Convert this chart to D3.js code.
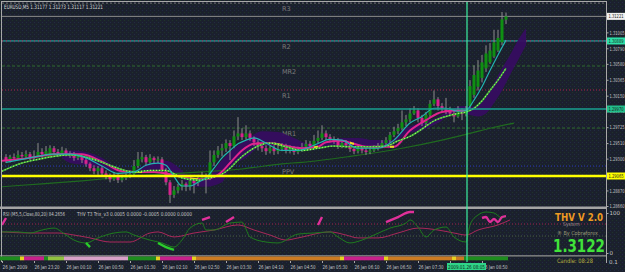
<!DOCTYPE html>
<html><head><meta charset="utf-8">
<script src="https://cdn.jsdelivr.net/npm/d3@7"></script>
<style>
html,body{margin:0;padding:0;background:#1b202d;overflow:hidden}
svg{display:block}
text{font-family:"DejaVu Sans",sans-serif}
</style></head><body>
<script>
// ---------- DATA ----------
const symbolTitle = "EURUSD,M5  1.31177 1.31273 1.31117 1.31221";
const barOpen = [1.2932,1.2928,1.2932,1.2931,1.2935,1.2933,1.2936,1.2932,1.2933,1.2939,
1.2936,1.2933,1.2944,1.2939,1.2937,1.2941,1.2937,1.2935,1.2931,1.2933,
1.2928,1.2923,1.2917,1.2913,1.2917,1.2910,1.2906,1.2902,1.2906,1.2901,
1.2904,1.2906,1.2909,1.2920,1.2929,1.2932,1.2925,1.2931,1.2928,1.2929,
1.2914,1.2898,1.2881,1.2887,1.2892,1.2896,1.2892,1.2900,1.2897,1.2904,
1.2906,1.2904,1.2925,1.2935,1.2941,1.2944,1.2951,1.2947,1.2960,1.2964,
1.2959,1.2964,1.2958,1.2952,1.2947,1.2944,1.2940,1.2944,1.2940,1.2943,
1.2947,1.2941,1.2944,1.2939,1.2941,1.2946,1.2950,1.2947,1.2954,1.2958,
1.2964,1.2959,1.2956,1.2954,1.2947,1.2951,1.2948,1.2943,1.2940,1.2944,
1.2941,1.2939,1.2941,1.2944,1.2947,1.2951,1.2955,1.2962,1.2967,1.2971,
1.2979,1.2983,1.2991,1.2995,1.2985,1.2978,1.2989,1.3004,1.3010,1.3001,
1.2998,1.2994,1.2991,1.2987,1.2994,1.2990,1.3001,1.3016,1.3027,1.3039,
1.3052,1.3060,1.3068,1.3076,1.3087,1.31177];
const barHigh = [1.2936,1.2935,1.2937,1.2941,1.2939,1.2941,1.2939,1.2941,1.2951,1.2944,
1.2947,1.2948,1.2947,1.2943,1.2946,1.2944,1.2940,1.2939,1.2936,1.2935,
1.2931,1.2925,1.2921,1.2920,1.2920,1.2914,1.2910,1.2912,1.2909,1.2908,
1.2910,1.2914,1.2928,1.2939,1.2939,1.2935,1.2936,1.2933,1.2933,1.2932,
1.2917,1.2901,1.2893,1.2896,1.2901,1.2898,1.2904,1.2904,1.2908,1.2912,
1.2910,1.2941,1.2941,1.2947,1.2950,1.2956,1.2955,1.2968,1.2986,1.2971,
1.2975,1.2968,1.2960,1.2955,1.2951,1.2948,1.2947,1.2948,1.2948,1.2951,
1.2950,1.2948,1.2947,1.2946,1.2951,1.2955,1.2954,1.2962,1.2968,1.2975,
1.2968,1.2963,1.2960,1.2958,1.2955,1.2955,1.2952,1.2947,1.2948,1.2947,
1.2946,1.2946,1.2948,1.2951,1.2955,1.2959,1.2966,1.2973,1.2977,1.2995,
1.2989,1.2998,1.3001,1.2998,1.2989,1.2993,1.3009,1.3022,1.3013,1.3005,
1.3012,1.3000,1.2995,1.3001,1.2998,1.3001,1.3036,1.3056,1.3063,1.3070,
1.3083,1.3086,1.3104,1.3104,1.3128,1.31273];
const barLow = [1.2924,1.2925,1.2928,1.2928,1.2931,1.2931,1.2928,1.2928,1.2932,1.2931,
1.2933,1.2931,1.2935,1.2932,1.2935,1.2933,1.2931,1.2927,1.2928,1.2924,
1.2919,1.2913,1.2909,1.2908,1.2906,1.2902,1.2898,1.2900,1.2897,1.2898,
1.2901,1.2904,1.2906,1.2917,1.2925,1.2921,1.2923,1.2924,1.2924,1.2910,
1.2894,1.2870,1.2877,1.2883,1.2887,1.2886,1.2887,1.2883,1.2893,1.2901,
1.2883,1.2901,1.2920,1.2931,1.2933,1.2939,1.2928,1.2944,1.2955,1.2955,
1.2956,1.2954,1.2947,1.2941,1.2939,1.2935,1.2937,1.2935,1.2936,1.2940,
1.2937,1.2937,1.2935,1.2936,1.2939,1.2941,1.2943,1.2944,1.2951,1.2955,
1.2955,1.2952,1.2950,1.2943,1.2944,1.2944,1.2939,1.2936,1.2937,1.2937,
1.2935,1.2936,1.2939,1.2941,1.2944,1.2947,1.2951,1.2959,1.2963,1.2968,
1.2974,1.2979,1.2989,1.2979,1.2974,1.2974,1.2986,1.3001,1.2995,1.2993,
1.2990,1.2987,1.2979,1.2985,1.2982,1.2987,1.2998,1.3012,1.3022,1.3033,
1.3047,1.3058,1.3066,1.3074,1.3083,1.31117];
const barClose = [1.2928,1.2932,1.2931,1.2935,1.2933,1.2936,1.2932,1.2933,1.2939,1.2936,
1.2940,1.2944,1.2939,1.2937,1.2941,1.2937,1.2935,1.2931,1.2933,1.2928,
1.2923,1.2917,1.2913,1.2917,1.2910,1.2906,1.2902,1.2906,1.2901,1.2904,
1.2906,1.2909,1.2920,1.2929,1.2932,1.2925,1.2931,1.2928,1.2929,1.2914,
1.2898,1.2881,1.2887,1.2892,1.2896,1.2892,1.2900,1.2897,1.2904,1.2906,
1.2904,1.2925,1.2935,1.2941,1.2944,1.2951,1.2947,1.2960,1.2964,1.2959,
1.2964,1.2958,1.2952,1.2947,1.2944,1.2940,1.2944,1.2940,1.2943,1.2947,
1.2941,1.2944,1.2939,1.2941,1.2946,1.2950,1.2947,1.2954,1.2958,1.2964,
1.2959,1.2956,1.2954,1.2947,1.2951,1.2948,1.2943,1.2940,1.2944,1.2941,
1.2939,1.2941,1.2944,1.2947,1.2951,1.2955,1.2962,1.2967,1.2971,1.2979,
1.2983,1.2991,1.2995,1.2985,1.2978,1.2989,1.3004,1.3010,1.3001,1.2998,
1.2994,1.2991,1.2987,1.2994,1.2990,1.2995,1.3028,1.3043,1.3049,1.3060,
1.3072,1.3076,1.3087,1.3093,1.3118,1.31221];

// moving averages (bar index, price)
const fastIdx = [0,4,8,12,16,20,24,28,32,35,38,40,42,44,46,48,50,52,54,56,58,60,62,65,69,73,77,81,84,88,93,97,101,104,107,110,113,115,117,119,121,123,125];
const fastVal = [1.2925,1.2929,1.2933,1.2936,1.2936,1.2931,1.2920,1.2910,1.2912,1.2921,1.2924,1.2921,1.2906,1.2893,1.2893,1.2898,1.2904,1.2917,1.2931,1.2941,1.2950,1.2955,1.2958,1.2951,1.2941,1.2941,1.2948,1.2956,1.2955,1.2944,1.2944,1.2955,1.2978,1.2987,1.2998,1.2998,1.2994,1.2995,1.3009,1.3027,1.3049,1.3070,1.3090];
const slowIdx = [-1,4,8,12,16,20,24,28,32,36,40,44,48,51,54,56,58,60,63,66,70,74,78,82,86,91,95,98,101,104,107,110,113,115,117,119,121,123,125];
const slowVal = [1.2913,1.2924,1.2929,1.2933,1.2935,1.2932,1.2925,1.2917,1.2912,1.2914,1.2914,1.2904,1.2901,1.2904,1.2909,1.2917,1.2928,1.2937,1.2947,1.2951,1.2946,1.2941,1.2944,1.2947,1.2946,1.2946,1.2947,1.2954,1.2960,1.2970,1.2981,1.2987,1.2991,1.2993,1.2998,1.3008,1.3022,1.3036,1.3052];
const trendIdx = [-1,6,12,19,22,25,29,33,37,41,45,49,53,56,59,62,66,70,74,78,80,84,87,90,94,97,101,105,109,113,115];
const trendVal = [1.2927,1.2931,1.2936,1.2936,1.2931,1.2923,1.2913,1.2912,1.2912,1.2909,1.2904,1.2902,1.2908,1.2924,1.2941,1.2950,1.2951,1.2947,1.2944,1.2946,1.2952,1.2954,1.2950,1.2946,1.2946,1.2946,1.2968,1.2982,1.2993,1.2995,1.2995];
const trendFlatFrom = [32,46,67,77,86,96];
const trendFlatTo   = [34,48,69,78,87,97];
const longIdx = [-1,9,19,29,39,49,59,69,74,86,99,109,116,121,127];
const longVal = [1.2892,1.2896,1.2900,1.2905,1.2909,1.2912,1.2916,1.2923,1.2925,1.2933,1.2944,1.2955,1.2964,1.2971,1.2978];
const cloudIdx = [14,16,20,24,28,32,36,40,44,46,50,54,56,60,64,68,72,76,80,84,88,92,96,100,104,108,112,114,116,118,120,122,124,126,128,130];
const cloudTop = [1.2939,1.2941,1.2939,1.2931,1.2917,1.2914,1.2925,1.2927,1.2914,1.2904,1.2905,1.2928,1.2939,1.2955,1.2967,1.2966,1.2958,1.2950,1.2952,1.2958,1.2958,1.2955,1.2955,1.2971,1.2979,1.2986,1.2998,1.3001,1.3000,1.3002,1.3013,1.3032,1.3052,1.3070,1.3090,1.3106];
const cloudBot = [1.2931,1.2924,1.2921,1.2917,1.2912,1.2910,1.2914,1.2914,1.2904,1.2892,1.2892,1.2898,1.2917,1.2931,1.2947,1.2947,1.2944,1.2943,1.2947,1.2947,1.2944,1.2944,1.2946,1.2963,1.2968,1.2978,1.2991,1.2991,1.2989,1.2987,1.2991,1.3005,1.3022,1.3043,1.3063,1.3083];

// pivot levels
const pivotNames = ["R3","R2","MR2","R1","MR1","PPV"];
const pivotVals  = [1.31400,1.30889,1.30551,1.30227,1.29713,1.29200];
const bidPrice = 1.31221;
const tealLevel = 1.29970;
const yellowLevel = 1.29065;

// axis
const priceTicks = [1.28660,1.28870,1.29085,1.29300,1.29510,1.29725,1.29940,1.30150,1.30365,1.30580,1.30790,1.31005];
const timeIdx = [0,8,16,24,32,40,48,56,64,72,80,88,96,104,112,120];
const timeLabels = ["26 Jan 2009","26 Jan 23:20","26 Jan 00:10","26 Jan 00:50","26 Jan 01:30","26 Jan 02:10","26 Jan 02:50","26 Jan 03:30","26 Jan 04:10","26 Jan 04:50","26 Jan 05:30","26 Jan 06:10","26 Jan 06:50","26 Jan 07:30","26 Jan 08:10","26 Jan 08:50"];
const cursorBar = 115.25;
const cursorLabel = "2009.01.26 08:05";

// oscillator (THV T3 Trix, x 0.0001)
const oscLevels = [5, 0];
const oscFastIdx = [-1,3,6,9,12,15,17,20,23,27,30,32,36,39,42,44,46,49,50,52,56,59,61,65,68,73,77,81,83,86,89,92,96,100,101,103,105,107,110,112,115,116,118,120,122,124,125];
const oscFastVal = [1.7,1.7,1.25,2.5,3.3,0.4,-1.7,-2.9,-0.8,1.25,1.7,0.4,-1.7,-2.9,-4.6,-1.7,3.3,5.4,2.5,2.5,5.4,5.8,-0.4,-2.5,-2.9,0.8,1.25,1.7,-0.4,-2.9,-1.7,0.4,3.3,5.4,6.7,3.75,-0.4,2.5,3.75,-0.4,-2.5,4.6,8.75,10,9.6,7.5,8.3];
const oscSlowIdx = [-1,6,11,13,17,21,26,31,36,38,42,47,52,58,62,66,70,73,81,85,88,93,98,103,108,112,115,118,123,126];
const oscSlowVal = [1.7,1.25,1.25,1.25,0.4,-0.8,-2.5,-2.5,1.25,1.7,-0.4,1.25,2.5,4.6,2.5,0.4,-1.7,-0.8,1.7,0.4,-0.8,-0.8,1.25,3.3,2.5,1.25,0.4,2.5,4.6,6.7];
const oscHighSegs = [[[-1,4.6],[0,7.5]],[[49,6.7],[51,7.9]],[[55,5.8],[57,7.9]],[[78,4.6],[79,7.9]],[[95,5.8],[98,7.9],[101,10],[102,10]],[[119,7.5],[120,7.9],[121,5.8],[122,7.1],[123,5.8],[124,7.9],[125,8.3]]];
const oscLowSegs = [[[20,-2.9],[21,-4.6]],[[38,-2.9],[40,-4.6],[42,-5.8]]];
const rsiTicks = [0,100];

// trend strip
const stripFrom  = [-1,4,5,10,11,15,31,38,39,47,48,84,85,95,96,112,113,115];
const stripTo    = [4,5,10,11,15,31,38,39,47,48,84,85,95,96,112,113,115,126];
const stripState = ["up","turn","down","up","weakUp","weakDown","up","turn","down","turn","range","turn","down","turn","range","turn","range","up"];

// ---------- DRAW ----------
const W=625,H=272;
const svg=d3.select("body").append("svg").attr("width",W).attr("height",H);
const defs=svg.append("defs");
const pat=defs.append("pattern").attr("id","noise").attr("width",4).attr("height",4).attr("patternUnits","userSpaceOnUse");
pat.append("rect").attr("width",4).attr("height",4).attr("fill","#1b202d");
pat.append("rect").attr("x",0).attr("y",0).attr("width",1).attr("height",1).attr("fill","#1f3528");
pat.append("rect").attr("x",2).attr("y",2).attr("width",1).attr("height",1).attr("fill","#222b44");
svg.append("rect").attr("width",W).attr("height",H).attr("fill","url(#noise)");

defs.append("clipPath").attr("id","mainClip").append("rect").attr("x",2).attr("y",2).attr("width",604).attr("height",204.5);
defs.append("clipPath").attr("id","oscClip").append("rect").attr("x",2).attr("y",210).attr("width",604).attr("height",45);

const x=d3.scaleLinear().domain([0,125]).range([6,506]);
const y=d3.scaleLinear().domain([1.28660,1.31010]).range([206,32]);
const yOsc=d3.scaleLinear().domain([-5,5]).range([248,224]);
const yRsi=d3.scaleLinear().domain([0,100]).range([253,213]);

const main=svg.append("g").attr("clip-path","url(#mainClip)");

// pivot lines
const pivStyle={R3:{c:"#707070",d:"2,2"},R2:{c:"#2ab4b4",d:null},MR2:{c:"#2f6a2f",d:"3,2"},R1:{c:"#b02048",d:"1,2"},MR1:{c:"#2f6a2f",d:"3,2"},PPV:{c:"#2a3ab8",d:"1,2"}};
pivotNames.forEach((n,k)=>{
  const yy=y(pivotVals[k]);
  const l=main.append("line").attr("x1",2).attr("x2",606).attr("y1",yy).attr("y2",yy)
    .attr("stroke",pivStyle[n].c).attr("stroke-width",1);
  if(pivStyle[n].d) l.attr("stroke-dasharray",pivStyle[n].d);
  if(n==="R2"){
    main.append("line").attr("x1",2).attr("x2",606).attr("y1",yy).attr("y2",yy)
      .attr("stroke","#c02050").attr("stroke-width",1).attr("stroke-dasharray","1,3");
  }
  main.append("text").attr("x",282).attr("y",yy+8).attr("font-size",6.5).attr("fill","#7c7c7c").text(n);
});
// bid line
main.append("line").attr("x1",2).attr("x2",606).attr("y1",y(bidPrice)).attr("y2",y(bidPrice)).attr("stroke","#8a8a8a").attr("stroke-width",1);

// cloud
const cloudData=cloudIdx.map((d,k)=>({i:d,hi:cloudTop[k],lo:cloudBot[k]}));
main.append("path").datum(cloudData)
  .attr("d",d3.area().x(d=>x(d.i)).y0(d=>y(d.lo)).y1(d=>y(d.hi)).curve(d3.curveMonotoneX))
  .attr("fill","#360c62").attr("opacity",0.92);

// long MA
const lineP=d3.line().x(d=>x(d[0])).y(d=>y(d[1])).curve(d3.curveMonotoneX);
main.append("path").datum(longIdx.map((d,k)=>[d,longVal[k]])).attr("d",lineP)
  .attr("fill","none").attr("stroke","#1f6a1f").attr("stroke-width",1.2);

// candles
const bars=d3.range(barClose.length);
main.append("g").selectAll("line").data(bars).join("line")
  .attr("x1",i=>x(i)).attr("x2",i=>x(i)).attr("y1",i=>y(barHigh[i])).attr("y2",i=>y(barLow[i]))
  .attr("stroke","#8c8c8c").attr("stroke-width",1);
main.append("g").selectAll("rect").data(bars).join("rect")
  .attr("x",i=>x(i)-1.5).attr("width",3)
  .attr("y",i=>y(Math.max(barOpen[i],barClose[i])))
  .attr("height",i=>Math.max(1,Math.abs(y(barOpen[i])-y(barClose[i]))))
  .attr("fill",i=>barClose[i]>=barOpen[i]?"#0f8f12":"#d8228e");

// trend MA (magenta with yellow flat parts)
const trendPts=trendIdx.map((d,k)=>[d,trendVal[k]]);
const dTrend=lineP(trendPts);
main.append("path").attr("d",dTrend).attr("fill","none").attr("stroke","#e0248e").attr("stroke-width",2);
trendFlatFrom.forEach((f,k)=>{
  const id="tf"+k;
  defs.append("clipPath").attr("id",id).append("rect").attr("x",x(f)).attr("width",x(trendFlatTo[k])-x(f)).attr("y",0).attr("height",210);
  main.append("path").attr("d",dTrend).attr("clip-path","url(#"+id+")").attr("fill","none").attr("stroke","#e8e020").attr("stroke-width",2);
});

// slow MA (lime, dotted look)
const slowD=lineP(slowIdx.map((d,k)=>[d,slowVal[k]]));
main.append("path").attr("d",slowD).attr("fill","none").attr("stroke","#3aa83a").attr("stroke-width",1.6);
main.append("path").attr("d",slowD).attr("fill","none").attr("stroke","#a8ff60").attr("stroke-width",1.2).attr("stroke-dasharray","1,2");
// fast MA (cyan)
main.append("path").datum(fastIdx.map((d,k)=>[d,fastVal[k]])).attr("d",lineP)
  .attr("fill","none").attr("stroke","#22b4b0").attr("stroke-width",1.2);

// horizontal level lines
main.append("line").attr("x1",2).attr("x2",606).attr("y1",y(tealLevel)).attr("y2",y(tealLevel)).attr("stroke","#18a090").attr("stroke-width",1.4);
main.append("line").attr("x1",2).attr("x2",606).attr("y1",y(yellowLevel)).attr("y2",y(yellowLevel)).attr("stroke","#ffff00").attr("stroke-width",2.6);

// title
svg.append("text").attr("x",4).attr("y",9).attr("font-size",6).attr("fill","#d8d8d8")
  .attr("textLength",99).attr("lengthAdjust","spacingAndGlyphs").text(symbolTitle);

// ---------- oscillator panel ----------
const osc=svg.append("g").attr("clip-path","url(#oscClip)");
osc.append("line").attr("x1",2).attr("x2",606).attr("y1",yOsc(oscLevels[0])).attr("y2",yOsc(oscLevels[0]))
  .attr("stroke","#a02050").attr("stroke-width",1).attr("stroke-dasharray","1,2");
osc.append("line").attr("x1",2).attr("x2",606).attr("y1",yOsc(oscLevels[1])).attr("y2",yOsc(oscLevels[1]))
  .attr("stroke","#4a5a48").attr("stroke-width",1).attr("stroke-dasharray","1,2");
const lineO=d3.line().x(d=>x(d[0])).y(d=>yOsc(d[1])).curve(d3.curveMonotoneX);
osc.append("path").datum(oscSlowIdx.map((d,k)=>[d,oscSlowVal[k]])).attr("d",lineO)
  .attr("fill","none").attr("stroke","#a8285a").attr("stroke-width",1);
osc.append("path").datum(oscFastIdx.map((d,k)=>[d,oscFastVal[k]])).attr("d",lineO)
  .attr("fill","none").attr("stroke","#1e7a1e").attr("stroke-width",1);
oscHighSegs.forEach(s=>osc.append("path").datum(s).attr("d",lineO).attr("fill","none").attr("stroke","#e0309a").attr("stroke-width",2.4));
oscLowSegs.forEach(s=>osc.append("path").datum(s).attr("d",lineO).attr("fill","none").attr("stroke","#2ccc2c").attr("stroke-width",2.4));

svg.append("text").attr("x",3).attr("y",216).attr("font-size",5.5).attr("fill","#c8c8c8")
  .attr("textLength",62).attr("lengthAdjust","spacingAndGlyphs").text("RSI (M5,5,Close,80,20) 84.2656");
svg.append("text").attr("x",77).attr("y",216).attr("font-size",5.5).attr("fill","#c8c8c8")
  .attr("textLength",115).attr("lengthAdjust","spacingAndGlyphs").text("THV T3 Trix_v3  0.0005 0.0000 -0.0005 0.0000 0.0000");

// ---------- separators & frames ----------
svg.append("rect").attr("x",0).attr("y",206.5).attr("width",607).attr("height",2.5).attr("fill","#a4a4a4");
svg.append("rect").attr("x",0).attr("y",255.2).attr("width",607).attr("height",1.3).attr("fill","#8c8c8c");
svg.append("line").attr("x1",1.5).attr("x2",1.5).attr("y1",1).attr("y2",262).attr("stroke","#a8a8a8");
svg.append("line").attr("x1",1).attr("x2",607).attr("y1",1.5).attr("y2",1.5).attr("stroke","#a8a8a8");
svg.append("line").attr("x1",606.5).attr("x2",606.5).attr("y1",1).attr("y2",263).attr("stroke","#a8a8a8");

// trend strip
const stripColor={up:"#1e8c1e",turn:"#e8d020",down:"#c8208c",weakUp:"#90c040",weakDown:"#d8a0c8",range:"#cc7a22"};
svg.append("g").selectAll("rect").data(stripFrom).join("rect")
  .attr("x",(d)=>x(d)-2).attr("width",(d,k)=>x(stripTo[k])-x(d))
  .attr("y",256.5).attr("height",3.8).attr("fill",(d,k)=>stripColor[stripState[k]]);

// ---------- right axes ----------
const ax=svg.append("g").attr("transform","translate(606.5,0)")
  .call(d3.axisRight(y).tickValues(priceTicks).tickSize(2).tickPadding(1).tickFormat(d=>d.toFixed(5)));
ax.select(".domain").remove();
ax.selectAll("line").attr("stroke","#a8a8a8");
ax.selectAll("text").attr("font-size",5.5).attr("font-family","DejaVu Sans").attr("fill","#c4c4c4")
  .attr("textLength",15).attr("lengthAdjust","spacingAndGlyphs");

const markerVals=[bidPrice,1.30889,tealLevel,yellowLevel];
const markerFill=["#f0f0f0","#2ee0a8","#22c08c","#ffff00"];
markerVals.forEach((v,k)=>{
  svg.append("rect").attr("x",607).attr("y",y(v)-3.5).attr("width",18).attr("height",7).attr("fill",markerFill[k]);
  svg.append("text").attr("x",608.5).attr("y",y(v)+2).attr("font-size",5.5).attr("fill","#1a1a1a")
    .attr("textLength",15).attr("lengthAdjust","spacingAndGlyphs").text(v.toFixed(5));
});

const axR=svg.append("g").attr("transform","translate(606.5,0)")
  .call(d3.axisRight(yRsi).tickValues(rsiTicks).tickSize(2).tickPadding(1));
axR.select(".domain").remove();
axR.selectAll("line").attr("stroke","#a8a8a8");
axR.selectAll("text").attr("font-size",5.5).attr("font-family","DejaVu Sans").attr("fill","#c4c4c4");
svg.append("text").attr("x",609).attr("y",264).attr("font-size",5.5).attr("fill","#c4c4c4").text("0.1");

// ---------- time axis ----------
const tx=svg.append("g").attr("transform","translate(0,261)")
  .call(d3.axisBottom(x).tickValues(timeIdx).tickSize(2).tickPadding(2).tickFormat((d,k)=>timeLabels[k]));
tx.select(".domain").remove();
tx.selectAll("line").attr("x1",-4).attr("x2",-4).attr("stroke","#a8a8a8");
tx.selectAll("text").attr("text-anchor","start").attr("x",-4).attr("font-size",5.5)
  .attr("font-family","DejaVu Sans").attr("fill","#c4c4c4")
  .attr("textLength",25).attr("lengthAdjust","spacingAndGlyphs");

// cursor line + label
const cx=x(cursorBar);
svg.append("line").attr("x1",cx).attr("x2",cx).attr("y1",2).attr("y2",262).attr("stroke","#3cf0a0").attr("stroke-width",1.2);
svg.append("rect").attr("x",cx-20).attr("y",263).attr("width",39).attr("height",7).attr("fill","#2fd488");
svg.append("text").attr("x",cx-19).attr("y",268.8).attr("font-size",5.5).attr("fill","#0c2a1a")
  .attr("textLength",37).attr("lengthAdjust","spacingAndGlyphs").text(cursorLabel);

// ---------- THV info box ----------
svg.append("text").attr("x",555).attr("y",221).attr("font-size",11).attr("font-weight","bold").attr("fill","#ee9a22")
  .attr("textLength",48).attr("lengthAdjust","spacingAndGlyphs").text("THV V 2.0");
svg.append("text").attr("x",563).attr("y",226).attr("font-size",5.5).attr("fill","#8c8c8c")
  .attr("textLength",17).attr("lengthAdjust","spacingAndGlyphs").text("System");
svg.append("text").attr("x",557).attr("y",235).attr("font-size",5.5).attr("fill","#9a9a78")
  .attr("textLength",41).attr("lengthAdjust","spacingAndGlyphs").text("® By Cobraforex");
svg.append("text").attr("x",553).attr("y",252).attr("font-size",18).attr("font-weight","bold").attr("fill","#40e23a")
  .attr("textLength",52).attr("lengthAdjust","spacingAndGlyphs").text(barClose[barClose.length-1].toFixed(4));
svg.append("text").attr("x",557).attr("y",262.5).attr("font-size",6).attr("fill","#b8b040")
  .attr("textLength",36).attr("lengthAdjust","spacingAndGlyphs").text("Candle: 08:28");
</script></body></html>
